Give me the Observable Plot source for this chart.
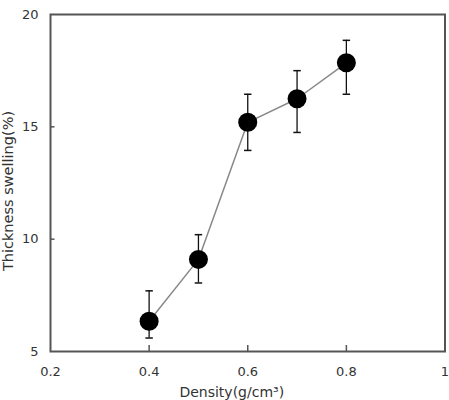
<!DOCTYPE html>
<html>
<head>
<meta charset="utf-8">
<script src="https://cdn.jsdelivr.net/npm/d3@7"></script>
<script src="https://cdn.jsdelivr.net/npm/@observablehq/plot@0.6"></script>
<style>
  html, body { margin: 0; padding: 0; background: #fff; }
  svg { font-family: "DejaVu Sans", sans-serif; }
</style>
</head>
<body>
<div id="chart"></div>
<script>
const density = [0.4, 0.5, 0.6, 0.7, 0.8];
const swelling = [6.35, 9.1, 15.2, 16.25, 17.85];
const errLow = [5.6, 8.05, 13.95, 14.75, 16.45];
const errHigh = [7.7, 10.2, 16.45, 17.5, 18.85];
const xTicks = [0.2, 0.4, 0.6, 0.8, 1];
const yTicks = [5, 10, 15, 20];
const xLabel = "Density(g/cm³)";
const yLabel = "Thickness swelling(%)";

const data = density.map((x, i) => ({x, y: swelling[i], lo: errLow[i], hi: errHigh[i]}));

const capSymbol = {
  draw(context, size) {
    const w = Math.sqrt(size) / 2;
    context.moveTo(-w, 0);
    context.lineTo(w, 0);
  }
};

const chart = Plot.plot({
  width: 449,
  height: 400,
  marginLeft: 50,
  marginTop: 14,
  marginRight: 4.5,
  marginBottom: 49,
  x: {domain: [0.2, 1]},
  y: {domain: [5, 20]},
  marks: [
    Plot.axisX(xTicks, {tickSize: 0, tickPadding: 15, tickFormat: d => String(d), fontSize: 13, color: "#333", label: null}),
    Plot.axisY(yTicks, {tickSize: 0, tickPadding: 12, fontSize: 13, color: "#333", label: null}),
    Plot.tickX(xTicks.slice(1, -1), {x: d => d, y: null, stroke: "#555", strokeWidth: 1.5, insetTop: 331}),
    Plot.tickY(yTicks.slice(1, -1), {y: d => d, x: null, stroke: "#555", strokeWidth: 1.5, insetRight: 390}),
    Plot.frame({stroke: "#555", strokeWidth: 2}),
    Plot.text([xLabel], {frameAnchor: "bottom", dx: -16, dy: 45, fontSize: 14, fill: "#333"}),
    Plot.text([yLabel], {frameAnchor: "left", textAnchor: "middle", rotate: -90, dx: -42, dy: 8, fontSize: 14.5, fill: "#333"}),
    Plot.line(data, {x: "x", y: "y", stroke: "#888", strokeWidth: 1.5}),
    Plot.ruleX(data, {x: "x", y1: "lo", y2: "hi", stroke: "#111", strokeWidth: 1.3}),
    Plot.dot(data, {x: "x", y: "lo", symbol: capSymbol, r: 4.2, stroke: "#111", strokeWidth: 1.5}),
    Plot.dot(data, {x: "x", y: "hi", symbol: capSymbol, r: 4.2, stroke: "#111", strokeWidth: 1.5}),
    Plot.dot(data, {x: "x", y: "y", r: 9.5, fill: "#000", stroke: "none"})
  ]
});
document.getElementById("chart").appendChild(chart);
</script>
</body>
</html>
